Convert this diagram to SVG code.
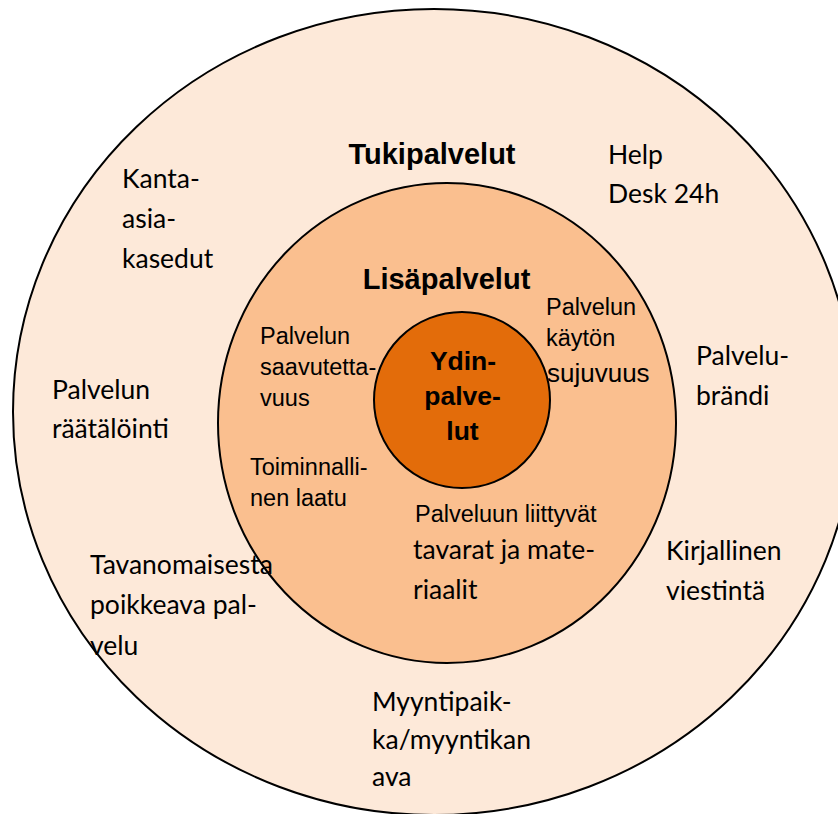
<svg xmlns="http://www.w3.org/2000/svg" width="838" height="814" viewBox="0 0 838 814">
<style>
.ring{stroke:#000;stroke-width:2}
.outer{fill:#FDE9D9}
.mid{fill:#FABF8F}
.core{fill:#E36C0A}
.h{font-family:"Liberation Sans",Arial,sans-serif;font-weight:bold;fill:#000}
.a{font-family:"Liberation Sans",Arial,sans-serif;font-size:23.5px;fill:#000}
.c{font-family:Lato,"Noto Sans",sans-serif;font-size:26.5px;fill:#000}
</style>
<rect width="838" height="814" fill="#fff"/>
<g id="tukipalvelut">
<ellipse class="ring outer" cx="434" cy="412" rx="421" ry="403"/>
<text class="h" x="432" y="164" font-size="29" text-anchor="middle">Tukipalvelut</text>
</g>
<g id="lisapalvelut">
<ellipse class="ring mid" cx="447" cy="423" rx="229" ry="240"/>
<text class="h" x="446.5" y="289" font-size="29" text-anchor="middle">Lisäpalvelut</text>
</g>
<g id="ydinpalvelut">
<circle class="ring core" cx="462" cy="400" r="88"/>
<text class="h" font-size="26.5" text-anchor="middle"><tspan x="463" y="370">Ydin-</tspan><tspan x="462.5" y="405">palve-</tspan><tspan x="462.5" y="440">lut</tspan></text>
</g>
<g id="kanta-asiakasedut"><text class="c"><tspan x="122" y="188">Kanta-</tspan><tspan x="122" y="228">asia-</tspan><tspan x="122" y="268">kasedut</tspan></text></g>
<g id="help-desk"><text class="c"><tspan x="608" y="164">Help</tspan><tspan x="608" y="203">Desk 24h</tspan></text></g>
<g id="palvelun-raatalointi"><text class="c"><tspan x="52" y="399">Palvelun</tspan><tspan x="52" y="438">räätälöinti</tspan></text></g>
<g id="palvelubrandi"><text class="c"><tspan x="696" y="365">Palvelu-</tspan><tspan x="696" y="405">brändi</tspan></text></g>
<g id="kirjallinen-viestinta"><text class="c"><tspan x="666" y="560">Kirjallinen</tspan><tspan x="666" y="600">viestintä</tspan></text></g>
<g id="poikkeava-palvelu"><text class="c"><tspan x="90" y="574">Tavanomaisesta</tspan><tspan x="90" y="614">poikkeava pal-</tspan><tspan x="90" y="655">velu</tspan></text></g>
<g id="myyntipaikka"><text class="c"><tspan x="372" y="711">Myyntipaik-</tspan><tspan x="372" y="749">ka/myyntikan</tspan><tspan x="372" y="786">ava</tspan></text></g>
<g id="saavutettavuus"><text class="a"><tspan x="260" y="344">Palvelun</tspan><tspan x="260" y="375">saavutetta-</tspan><tspan x="260" y="406">vuus</tspan></text></g>
<g id="toiminnallinen-laatu"><text class="a"><tspan x="250" y="475">Toiminnalli-</tspan><tspan x="250" y="506">nen laatu</tspan></text></g>
<g id="kayton-sujuvuus"><text class="a"><tspan x="546" y="315">Palvelun</tspan><tspan x="546" y="346">käytön</tspan><tspan x="547" y="382" font-size="26">sujuvuus</tspan></text></g>
<g id="tavarat-materiaalit"><text class="a" x="415" y="522">Palveluun liittyvät</text><text class="c"><tspan x="413" y="559">tavarat ja mate-</tspan><tspan x="413" y="599">riaalit</tspan></text></g>
</svg>
